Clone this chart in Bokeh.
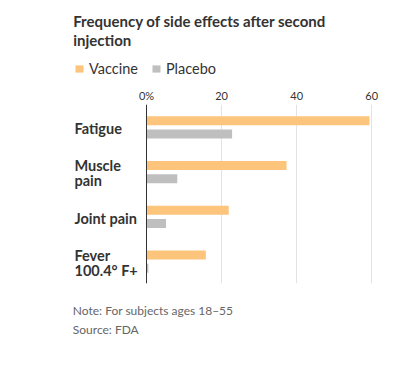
from bokeh.plotting import figure
from bokeh.layouts import column
from bokeh.models import (FactorRange, Range1d, FixedTicker, Legend, LegendItem, Span,
                          Label, ColumnDataSource)
from bokeh.transform import dodge
from bokeh.core.properties import value
from bokeh.embed import file_html
from bokeh.resources import INLINE

categories = ["Fatigue", "Muscle pain", "Joint pain", "Fever 100.4° F+"]
label_lines = [["Fatigue"], ["Muscle", "pain"], ["Joint pain"], ["Fever", "100.4° F+"]]
series = ["Vaccine", "Placebo"]
vaccine = [59.4, 37.3, 21.9, 15.8]
placebo = [22.8, 8.2, 5.2, 0.5]
ticks = [0, 20, 40, 60]
tick_labels = {0: "0%", 20: "20", 40: "40", 60: "60"}
title_lines = ["Frequency of side effects after second", "injection"]
notes = ["Note: For subjects ages 18–55", "Source: FDA"]

FONT = "Lato"
DARK = "#333333"
NOTE_COLOR = "#666666"
ORANGE = "#fdc47c"
GREY = "#bfbfbf"
COLORS = [ORANGE, GREY]

W = 393
TOP_H = 80
H = 210
BOT_H = 55
FRAME_LEFT = 146          # pixel position of value 0
PX_PER_UNIT = 3.754
MT, MB = 24, 7
FH = H - MT - MB
CAT_PX = FH / len(categories)


def blank(height):
    f = figure(width=W, height=height, output_backend="svg", toolbar_location=None,
               x_axis_type=None, y_axis_type=None, x_range=Range1d(0, 1),
               y_range=Range1d(2, 3), min_border=0)
    f.outline_line_color = None
    f.grid.visible = False
    f.title.visible = False
    return f


# ---------- header: title + legend ----------
top = blank(TOP_H)
for t, base in zip(title_lines, [20.5, 39.8]):
    top.add_layout(Label(x=72.7, y=TOP_H - base, x_units="screen", y_units="screen", text=t,
                         text_font=FONT, text_font_size="15px", text_font_style="bold",
                         text_color=DARK, text_baseline="alphabetic"))

# legend swatch proxies (zero-length bars outside the visible range)
proxies = [top.hbar(y=[0], right=[0], left=0, height=1, color=c, line_color=None) for c in COLORS]
legend = Legend(items=[LegendItem(label=s, renderers=[r]) for s, r in zip(series, proxies)],
                orientation="horizontal", location=(74, TOP_H - 76.5),
                padding=0, margin=0, spacing=13, glyph_width=10, glyph_height=9,
                label_standoff=5, label_height=9,
                label_text_font=FONT, label_text_font_size="14.5px", label_text_color=DARK,
                border_line_color=None, background_fill_alpha=0)
top.add_layout(legend)

# ---------- main chart ----------
p = figure(width=W, height=H, output_backend="svg", toolbar_location=None,
           y_range=FactorRange(factors=categories[::-1], range_padding=0),
           x_range=Range1d(-FRAME_LEFT / PX_PER_UNIT, (W - FRAME_LEFT) / PX_PER_UNIT),
           x_axis_location="above",
           min_border_left=0, min_border_right=0, min_border_top=MT, min_border_bottom=MB)
p.outline_line_color = None
p.title.visible = False

data = dict(cat=categories, vaccine=vaccine, placebo=placebo)
p.hbar(y=dodge("cat", 0.135, range=p.y_range), right="vaccine", left=0, height=0.2,
       source=data, color=ORANGE, line_color=None)
p.hbar(y=dodge("cat", -0.16, range=p.y_range), right="placebo", left=0, height=0.2,
       source=data, color=GREY, line_color=None)

p.yaxis.visible = False
p.ygrid.grid_line_color = None
p.xgrid.grid_line_color = "#e3e3e3"
p.xaxis.ticker = FixedTicker(ticks=ticks)
p.xaxis.major_label_overrides = tick_labels
p.xaxis.axis_line_color = None
p.xaxis.major_tick_line_color = None
p.xaxis.minor_tick_line_color = None
p.xaxis.major_tick_out = 0
p.xaxis.major_tick_in = 0
p.xaxis.major_label_standoff = 3
p.xaxis.major_label_text_font = FONT
p.xaxis.major_label_text_font_size = "11px"
p.xaxis.major_label_text_color = DARK

p.add_layout(Span(location=0, dimension="height", line_color=DARK, line_width=1))

label_x = (74 - FRAME_LEFT) / PX_PER_UNIT
groups = {}
for cat, lines in zip(categories, label_lines):
    n = len(lines)
    for j, t in enumerate(lines):
        off_px = 1.7 + (j - (n - 1) / 2) * 15
        key = round(-off_px / CAT_PX, 4)
        groups.setdefault(key, {"cat": [], "text": []})
        groups[key]["cat"].append(cat)
        groups[key]["text"].append(t)
for off, g in groups.items():
    p.text(x=label_x, y=dodge("cat", off, range=p.y_range), text="text",
           source=ColumnDataSource(g), text_font=value(FONT), text_font_size="14.5px",
           text_font_style="bold", text_color=DARK, text_baseline="alphabetic",
           text_align="left")

# ---------- footer: notes ----------
bot = blank(BOT_H)
for t, base in zip(notes, [20.3, 38.6]):
    bot.add_layout(Label(x=72.3, y=BOT_H - base, x_units="screen", y_units="screen", text=t,
                         text_font=FONT, text_font_size="12px", text_color=NOTE_COLOR,
                         text_baseline="alphabetic"))

layout = column(top, p, bot, spacing=0)
open("out.html", "w").write(file_html(layout, INLINE))
